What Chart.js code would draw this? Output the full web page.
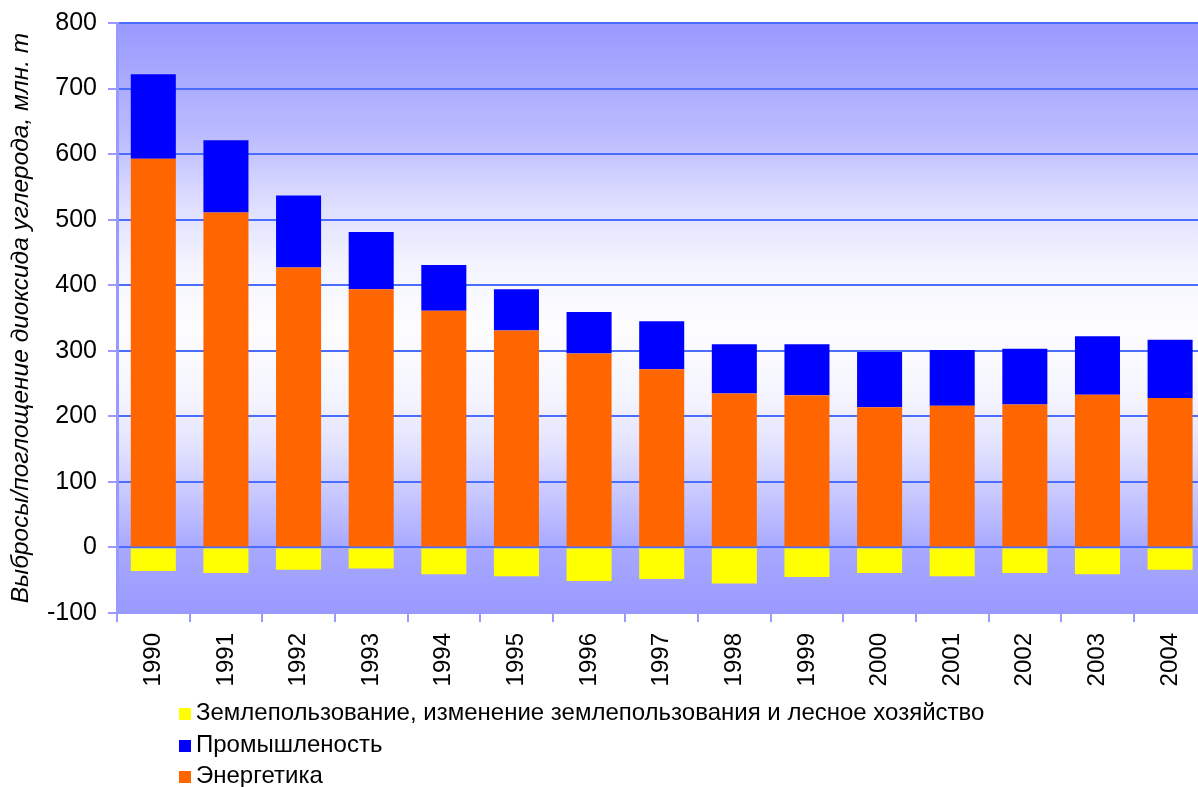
<!DOCTYPE html>
<html lang="ru">
<head>
<meta charset="utf-8">
<script src="https://cdn.jsdelivr.net/npm/chart.js@4"></script>
<style>
  html, body { margin: 0; padding: 0; background: #fff; overflow: hidden; width: 1198px; height: 787px; }
  #wrap { position: absolute; left: 0; top: 0; width: 1210px; height: 700px; }
  #legend { position: absolute; left: 179px; top: 696px; font-family: 'Liberation Sans', Arial, sans-serif; font-size: 24px; color: #000; }
  .item { height: 31.5px; line-height: 31.5px; white-space: nowrap; }
  .box { display: inline-block; width: 12px; height: 12px; margin-right: 5px; vertical-align: 0px; }
</style>
</head>
<body>
<div id="wrap"><canvas id="chart" width="1210" height="700"></canvas></div>
<div id="legend"></div>
<script>
// --- DONNÉES ---
const annees = ['1990', '1991', '1992', '1993', '1994', '1995', '1996', '1997', '1998', '1999', '2000', '2001', '2002', '2003', '2004'];
const energetika = [593, 511, 427, 394, 361, 331, 296, 272, 235, 232, 214, 216, 218, 233, 228];
const promyshlennost = [129, 110, 110, 87, 70, 63, 63, 73, 75, 78, 84, 85, 85, 89, 89];
const zemlepolzovanie = [-36, -39, -34, -32, -41, -44, -51, -48, -55, -45, -39, -44, -39, -41, -34];
const yTicks = [-100, 0, 100, 200, 300, 400, 500, 600, 700, 800];

const FONT = "'Liberation Sans', Arial, sans-serif";

// fond dégradé de la zone de tracé
const fondDegrade = {
    id: 'fondDegrade',
    beforeDraw(chart) {
        const { ctx, chartArea: a } = chart;
        const g = ctx.createLinearGradient(0, a.top, 0, a.bottom);
        g.addColorStop(0, '#9999ff');
        g.addColorStop(0.19, '#bbbbff');
        g.addColorStop(0.30, '#dcdcff');
        g.addColorStop(0.41, '#f4f4ff');
        g.addColorStop(0.52, '#fdfdff');
        g.addColorStop(0.64, '#f4f4ff');
        g.addColorStop(0.72, '#e2e2ff');
        g.addColorStop(0.81, '#c4c4ff');
        g.addColorStop(0.89, '#a8a8ff');
        g.addColorStop(1, '#9999ff');
        ctx.save();
        ctx.fillStyle = g;
        ctx.fillRect(a.left, a.top, a.right - a.left, a.bottom - a.top);
        ctx.restore();
    }
};

const datasets = [
    { label: 'Землепользование, изменение землепользования и лесное хозяйство', data: zemlepolzovanie, backgroundColor: '#ffff00' },
    { label: 'Промышленость', data: promyshlennost, backgroundColor: '#0000ff' },
    { label: 'Энергетика', data: energetika, backgroundColor: '#ff6600' }
];
// ordre d'empilement : énergie en bas, industrie au-dessus
const ordre = [2, 1, 0];

const chart = new Chart(document.getElementById('chart'), {
    type: 'bar',
    data: {
        labels: annees,
        datasets: ordre.map(i => Object.assign({ borderWidth: 0, barPercentage: 0.62, categoryPercentage: 1 }, datasets[i]))
    },
    plugins: [fondDegrade],
    options: {
        responsive: false,
        animation: false,
        layout: { padding: { top: 0, right: 3, left: 0, bottom: 0 } },
        plugins: { legend: { display: false }, tooltip: { enabled: false } },
        scales: {
            x: {
                stacked: true,
                afterFit(axis) { axis.height = 87; },
                grid: { drawOnChartArea: false, drawTicks: true, tickLength: 9, tickColor: '#9999ff', lineWidth: 2, offset: true },
                border: { display: true, color: '#9999ff', width: 2 },
                ticks: { color: '#000', font: { family: FONT, size: 24 }, minRotation: 90, maxRotation: 90, padding: 11, autoSkip: false }
            },
            y: {
                stacked: true,
                min: -100,
                max: 800,
                afterBuildTicks(axis) { axis.ticks = yTicks.map(v => ({ value: v })); },
                afterFit(axis) { axis.width = 117; axis.paddingTop = 23; },
                grid: {
                    color: ctx => (ctx.tick && ctx.tick.value === -100) ? 'rgba(0,0,0,0)' : '#4a6cff',
                    tickColor: '#9999ff',
                    lineWidth: 2,
                    tickLength: 9
                },
                border: { display: true, color: '#9999ff', width: 3 },
                ticks: { color: '#000', font: { family: FONT, size: 25 }, padding: 11 },
                title: {
                    display: true,
                    text: 'Выбросы/поглощение диоксида углерода, млн. т',
                    color: '#000',
                    font: { family: FONT, size: 24.5, style: 'italic' },
                    padding: { top: 6, bottom: 0 }
                }
            }
        }
    }
});

// légende verticale sous le graphique
const legende = document.getElementById('legend');
datasets.forEach(d => {
    const row = document.createElement('div');
    row.className = 'item';
    row.innerHTML = `<span class="box" style="background:${d.backgroundColor}"></span>${d.label}`;
    legende.appendChild(row);
});
</script>
</body>
</html>
